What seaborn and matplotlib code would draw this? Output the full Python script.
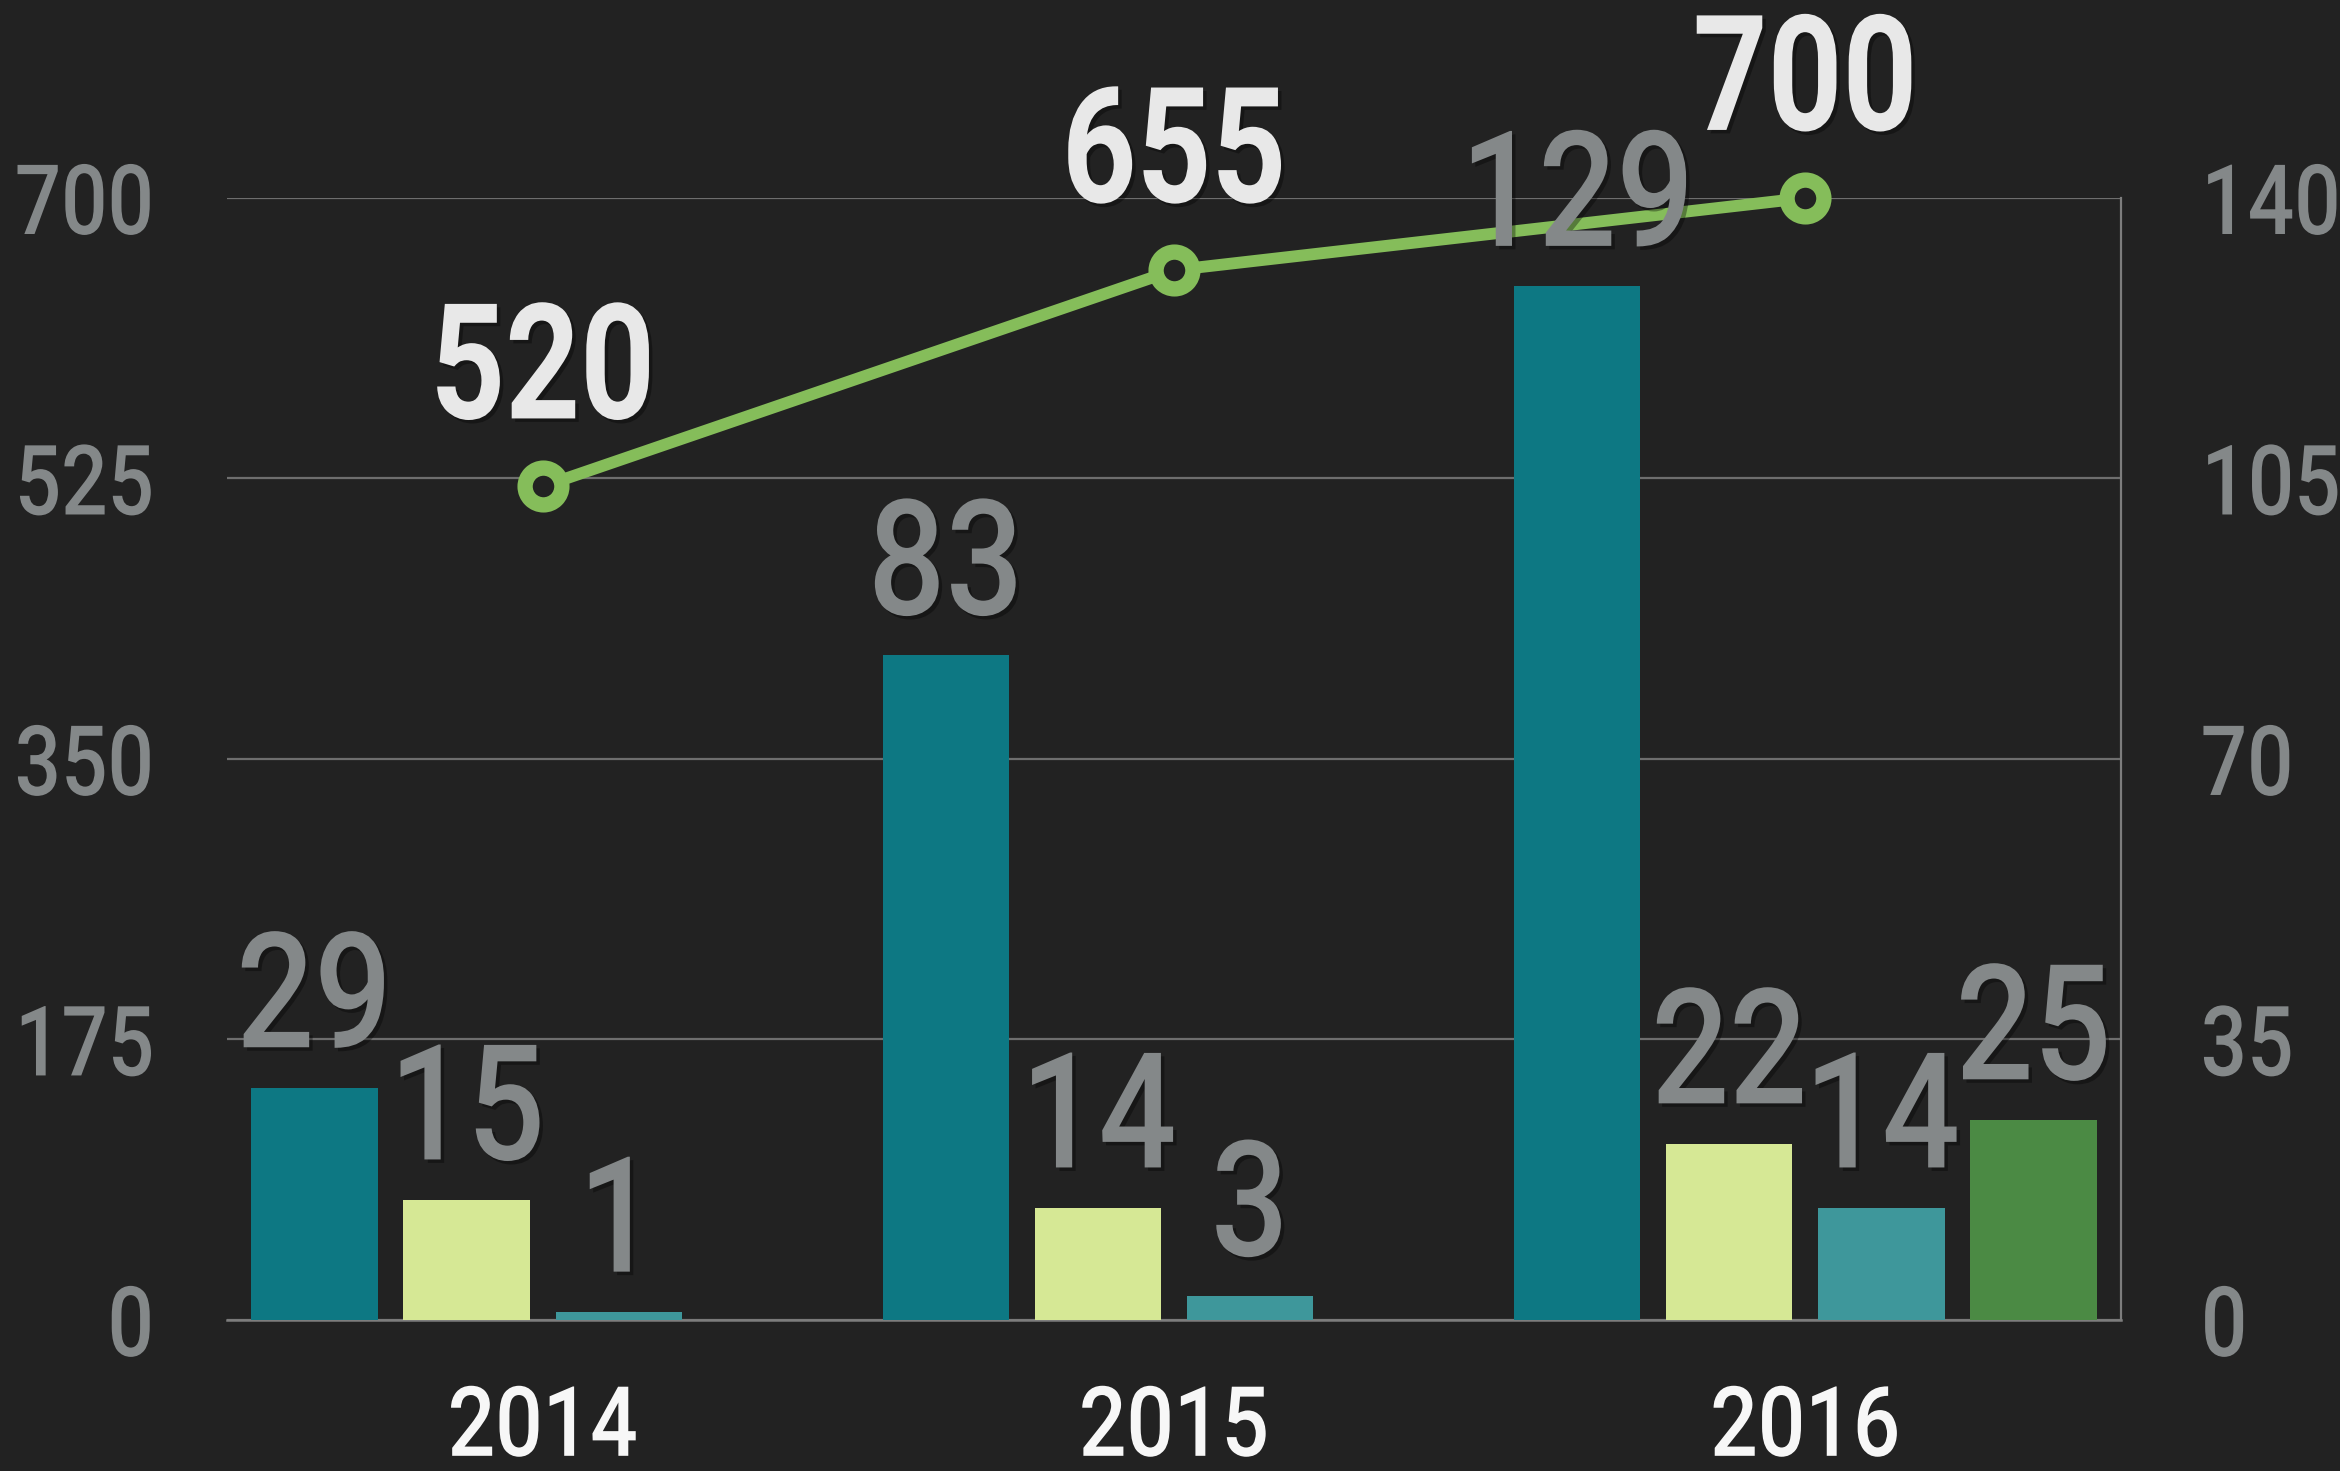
import matplotlib
matplotlib.use("Agg")
import matplotlib.pyplot as plt
import matplotlib.patheffects as pe
from matplotlib.transforms import Affine2D
import numpy as np
import pandas as pd
import seaborn as sns

YEARS = ["2014", "2015", "2016"]
SERIES = ["S1", "S2", "S3", "S4"]
S1_VALUES = [29, 83, 129]
S2_VALUES = [15, 14, 22]
S3_VALUES = [1, 3, 14]
S4_VALUES = [np.nan, np.nan, 25]
TOTALS = [520, 655, 700]
LEFT_TICKS = [0, 175, 350, 525, 700]
RIGHT_TICKS = [0, 35, 70, 105, 140]

BG = "#222222"
GRID = "#6e6e6e"
LABEL_GREY = "#848889"
LINE_GREEN = "#85bd5a"
PALETTE = {"S1": "#0d7883", "S2": "#d6e895", "S3": "#3e979b", "S4": "#4b8a44"}


class Narrow(pe.AbstractPathEffect):
    """squeeze text horizontally (no condensed font installed), optional drop shadow"""

    def __init__(self, sx=0.84, anchor="center", shadow=False):
        super().__init__()
        self.sx = sx
        self.anchor = anchor
        self.shadow = shadow

    def draw_path(self, renderer, gc, tpath, affine, rgbFace=None):
        ext = tpath.get_extents()
        if self.anchor == "left":
            x0 = ext.x0
        elif self.anchor == "right":
            x0 = ext.x1
        else:
            x0 = (ext.x0 + ext.x1) / 2
        t = Affine2D().translate(-x0, 0).scale(self.sx, 1).translate(x0, 0) + affine
        if self.shadow:
            gc0 = renderer.new_gc()
            gc0.copy_properties(gc)
            gc0.set_linewidth(0)
            d = renderer.points_to_pixels(2.5)
            renderer.draw_path(gc0, tpath, t + Affine2D().translate(d, -d), (0, 0, 0, 0.35))
            gc0.restore()
        renderer.draw_path(gc, tpath, t, rgbFace)


sns.set_style("dark", rc={"axes.facecolor": BG, "figure.facecolor": BG})
plt.rcParams["font.family"] = ["Roboto", "DejaVu Sans"]
plt.rcParams["font.weight"] = "medium"

rows = []
for name, vals in zip(SERIES, [S1_VALUES, S2_VALUES, S3_VALUES, S4_VALUES]):
    for year, v in zip(YEARS, vals):
        rows.append({"year": year, "series": name, "value": v})
bars_df = pd.DataFrame(rows)
line_df = pd.DataFrame({"year": YEARS, "total": TOTALS})

fig, ax = plt.subplots(figsize=(23.4, 14.71), dpi=100)
fig.subplots_adjust(left=0.097, right=0.9064, top=0.8654, bottom=0.1027)
ax2 = ax.twinx()

# line on the left scale
sns.pointplot(
    data=line_df, x="year", y="total", order=YEARS, color=LINE_GREEN,
    errorbar=None, markers="o", markersize=26.5, markeredgewidth=11,
    markerfacecolor=BG, linewidth=8.5, ax=ax,
)
for line in ax.lines:
    line.set_clip_on(False)
    line.set_zorder(5)

# bars on the right scale
sns.barplot(
    data=bars_df, x="year", y="value", hue="series", order=YEARS,
    hue_order=SERIES, palette=PALETTE, width=0.964, gap=0.17,
    saturation=1, legend=False, linewidth=0, edgecolor="none", ax=ax2,
)

for patch in ax2.patches:
    h = patch.get_height()
    if np.isnan(h):
        continue
    ax2.annotate(
        f"{h:.0f}", (patch.get_x() + patch.get_width() / 2, h),
        xytext=(0, 29), textcoords="offset points", ha="center", va="baseline",
        fontsize=116, fontweight="medium", color=LABEL_GREY,
        path_effects=[Narrow(sx=0.85, shadow=True)], zorder=10,
    )

for i, total in enumerate(TOTALS):
    ax2.annotate(
        f"{total}", (i, total), xycoords=ax.transData,
        xytext=(0, 49), textcoords="offset points", ha="center", va="baseline",
        fontsize=116, fontweight="bold", color="#e8e8e8",
        path_effects=[Narrow(sx=0.81, shadow=True)],
        annotation_clip=False, zorder=10,
    )

ax.set_xlim(-0.5, 2.5)
ax.set_ylim(0, 700)
ax2.set_ylim(0, 140)
ax.set_yticks(LEFT_TICKS)
ax2.set_yticks(RIGHT_TICKS)
ax.set_xlabel("")
ax.set_ylabel("")
ax2.set_xlabel("")
ax2.set_ylabel("")

ax.yaxis.grid(True, color=GRID, linewidth=1.6)
ax.xaxis.grid(False)
ax2.grid(False)
ax.set_axisbelow(True)

ax.tick_params(axis="y", length=0, pad=52, labelsize=70, labelcolor=LABEL_GREY)
ax2.tick_params(axis="y", length=0, pad=57, labelsize=70, labelcolor=LABEL_GREY)
ax.tick_params(axis="x", length=0, pad=46, labelsize=70, labelcolor="#f7f7f7")
ax2.tick_params(axis="x", length=0)

for lbl in ax.get_yticklabels():
    lbl.set_path_effects([Narrow(anchor="right")])
for lbl in ax2.get_yticklabels():
    lbl.set_path_effects([Narrow(anchor="left")])
for lbl in ax.get_xticklabels():
    lbl.set_path_effects([Narrow(sx=0.86)])

for a in (ax, ax2):
    for s in a.spines.values():
        s.set_visible(False)
ax.spines["bottom"].set_visible(True)
ax.spines["bottom"].set_color("#7d7d7d")
ax.spines["bottom"].set_linewidth(1.8)
ax2.spines["right"].set_visible(True)
ax2.spines["right"].set_color("#7d7d7d")
ax2.spines["right"].set_linewidth(1.6)

fig.savefig("out.png", dpi=100, facecolor=BG)
